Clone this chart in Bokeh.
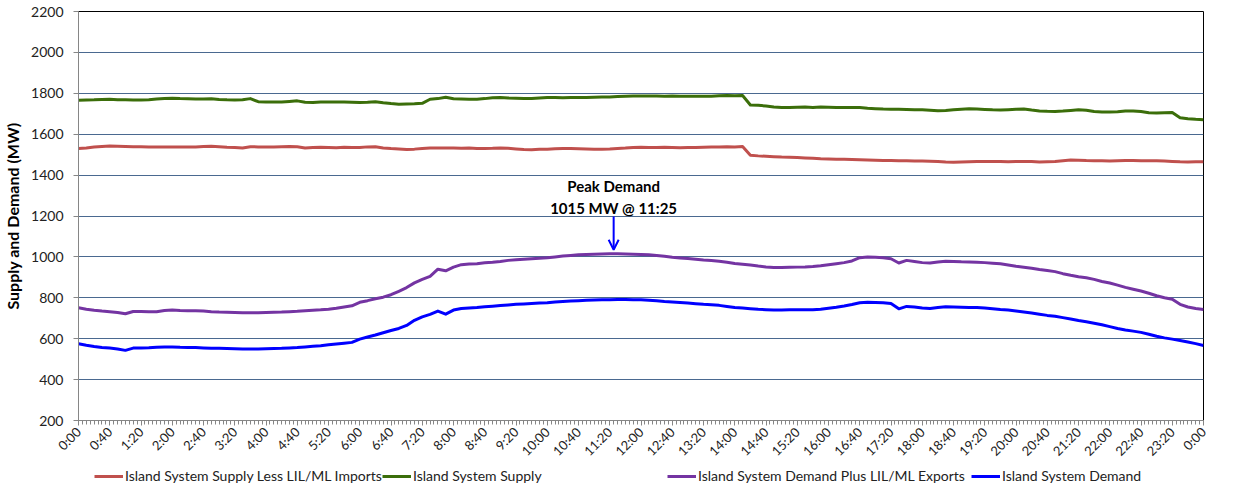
import math
from bokeh.plotting import figure
from bokeh.layouts import column
from bokeh.models import (Range1d, FixedTicker, Legend, LegendItem, Arrow,
                          OpenHead, Label, ColumnDataSource)
from bokeh.embed import file_html
from bokeh.resources import INLINE

# ---------------- data (10-minute readings, 0:00 .. 24:00) ----------------
minutes = list(range(0, 1441, 10))

supply = [
    1766, 1767, 1768, 1770, 1771, 1769,
    1768, 1767, 1767, 1769, 1772, 1774,
    1776, 1774, 1773, 1772, 1772, 1773,
    1770, 1768, 1767, 1768, 1774, 1759,
    1758, 1758, 1757, 1760, 1763, 1756,
    1755, 1757, 1758, 1757, 1757, 1756,
    1755, 1756, 1759, 1754, 1750, 1747,
    1748, 1749, 1751, 1771, 1774, 1781,
    1773, 1772, 1771, 1771, 1774, 1778,
    1779, 1777, 1776, 1774, 1775, 1777,
    1779, 1779, 1778, 1779, 1779, 1780,
    1781, 1782, 1782, 1784, 1786, 1787,
    1787, 1787, 1787, 1786, 1787, 1786,
    1786, 1785, 1785, 1786, 1788, 1789,
    1788, 1789, 1743, 1741, 1738, 1733,
    1731, 1731, 1732, 1733, 1731, 1733,
    1732, 1730, 1731, 1730, 1730, 1727,
    1725, 1723, 1722, 1722, 1721, 1720,
    1719, 1717, 1715, 1716, 1719, 1722,
    1724, 1723, 1721, 1719, 1718, 1720,
    1722, 1723, 1718, 1714, 1712, 1711,
    1713, 1716, 1719, 1717, 1711, 1709,
    1709, 1710, 1713, 1714, 1711, 1705,
    1704, 1705, 1706, 1680, 1676, 1673,
    1671,
]

supply_less_imports = [
    1530, 1533, 1537, 1540, 1542, 1541,
    1540, 1539, 1539, 1538, 1537, 1538,
    1538, 1538, 1537, 1538, 1540, 1541,
    1539, 1536, 1535, 1533, 1539, 1538,
    1537, 1538, 1539, 1540, 1539, 1533,
    1535, 1536, 1535, 1534, 1536, 1535,
    1535, 1538, 1539, 1533, 1530, 1528,
    1525, 1527, 1530, 1532, 1533, 1532,
    1533, 1531, 1532, 1530, 1530, 1531,
    1533, 1531, 1528, 1525, 1524, 1526,
    1527, 1529, 1530, 1530, 1529, 1528,
    1527, 1527, 1528, 1530, 1532, 1535,
    1536, 1535, 1535, 1536, 1535, 1534,
    1535, 1535, 1536, 1537, 1538, 1539,
    1538, 1540, 1497, 1494, 1492, 1490,
    1488, 1487, 1486, 1484, 1482, 1480,
    1479, 1478, 1477, 1476, 1475, 1474,
    1473, 1472, 1471, 1470, 1470, 1469,
    1469, 1468, 1466, 1464, 1463, 1464,
    1465, 1466, 1467, 1466, 1466, 1465,
    1466, 1467, 1466, 1464, 1465, 1466,
    1470, 1474, 1473, 1471, 1470, 1470,
    1469, 1470, 1471, 1471, 1470, 1470,
    1470, 1469, 1467, 1465, 1464, 1465,
    1465,
]

demand_plus_exports = [
    751, 744, 739, 735, 732, 728,
    722, 733, 733, 732, 732, 738,
    740, 738, 737, 737, 735, 732,
    730, 729, 728, 727, 727, 727,
    728, 729, 730, 732, 734, 737,
    739, 741, 744, 749, 755, 761,
    778, 786, 795, 803, 815, 832,
    850, 873, 890, 905, 940, 932,
    950, 962, 965, 967, 971, 974,
    978, 983, 986, 989, 991, 993,
    996, 1000, 1004, 1007, 1010, 1012,
    1013, 1014, 1015, 1015, 1014, 1013,
    1012, 1010, 1007, 1003, 998, 995,
    992, 989, 985, 982, 979, 974,
    968, 964, 960, 955, 951, 948,
    948, 949, 950, 951, 953, 957,
    962, 967, 972, 980, 996, 999,
    998, 996, 991, 970, 983, 978,
    972, 970, 975, 979, 978, 976,
    975, 974, 972, 969, 966, 960,
    954, 949, 944, 938, 933, 928,
    918, 910, 903, 898, 890, 880,
    872, 862, 851, 842, 833, 822,
    810, 800, 793, 768, 755, 748,
    743,
]

demand = [
    575, 568, 562, 557, 554, 550,
    543, 554, 555, 556, 558, 560,
    560, 558, 557, 557, 555, 553,
    553, 552, 551, 550, 550, 550,
    551, 552, 553, 555, 557, 560,
    563, 566, 570, 574, 578, 582,
    598, 608, 618, 629, 640, 650,
    665, 690, 707, 719, 735, 720,
    740, 748, 750, 752, 756, 759,
    762, 765, 768, 770, 772, 774,
    776, 779, 782, 784, 786, 788,
    789, 790, 791, 792, 792, 791,
    790, 788, 785, 782, 780, 777,
    774, 771, 768, 766, 763, 758,
    753, 750, 747, 744, 742, 740,
    740, 741, 741, 741, 741, 744,
    749, 754, 760, 767, 776, 778,
    777, 776, 772, 746, 758, 755,
    750, 748, 752, 756, 755, 754,
    753, 752, 750, 747, 743, 740,
    736, 731, 726, 720, 714, 710,
    703, 696, 689, 683, 676, 668,
    659, 650, 643, 637, 631, 622,
    612, 604, 598, 591, 584, 576,
    567,
]

series_names = ["Island System Supply Less LIL/ML Imports",
                "Island System Supply",
                "Island System Demand Plus LIL/ML Exports",
                "Island System Demand"]
series_colors = ["#c0504d", "#3b6e0a", "#7434a2", "#0000ff"]

tick_minutes = list(range(0, 1441, 40))
tick_labels = ["0:00", "0:40", "1:20", "2:00", "2:40", "3:20", "4:00", "4:40",
               "5:20", "6:00", "6:40", "7:20", "8:00", "8:40", "9:20", "10:00",
               "10:40", "11:20", "12:00", "12:40", "13:20", "14:00", "14:40",
               "15:20", "16:00", "16:40", "17:20", "18:00", "18:40", "19:20",
               "20:00", "20:40", "21:20", "22:00", "22:40", "23:20", "0:00"]
y_ticks = list(range(200, 2201, 200))

peak_minute = 11 * 60 + 25
peak_value = 1015
peak_text = ["Peak Demand", "1015 MW @ 11:25"]

FONT = "Lato"
W = 1222

# ---------------- main figure ----------------
p = figure(width=W, height=468, output_backend="svg", toolbar_location=None,
           x_range=Range1d(0, 1440), y_range=Range1d(200, 2200),
           min_border_left=71, min_border_right=19, min_border_top=11,
           min_border_bottom=48)
p.background_fill_color = "white"
p.border_fill_color = "white"
p.outline_line_color = "black"
p.outline_line_width = 1

src = ColumnDataSource(dict(t=minutes, s1=supply_less_imports, s2=supply,
                            s3=demand_plus_exports, s4=demand))
for key, col in zip(["s1", "s2", "s3", "s4"], series_colors):
    p.line("t", key, source=src, line_color=col, line_width=3,
           line_join="round")

p.xaxis.ticker = FixedTicker(ticks=tick_minutes,
                             minor_ticks=list(range(0, 1441, 5)))
p.xaxis.major_label_overrides = {m: l for m, l in zip(tick_minutes, tick_labels)}
p.xaxis.major_label_orientation = math.pi / 4
p.xaxis.major_label_text_font = FONT
p.xaxis.major_label_text_font_size = "13px"
p.xaxis.major_label_text_color = "#222222"
p.xaxis.axis_line_color = "#868686"
p.xaxis.major_tick_line_color = "#868686"
p.xaxis.minor_tick_line_color = "#868686"
p.xaxis.major_tick_out = 5
p.xaxis.major_tick_in = 0
p.xaxis.minor_tick_out = 4
p.xaxis.minor_tick_in = 0
p.xaxis.major_label_standoff = 4

p.yaxis.ticker = FixedTicker(ticks=y_ticks)
p.yaxis.major_label_text_font = FONT
p.yaxis.major_label_text_font_size = "14px"
p.yaxis.major_label_text_color = "#222222"
p.yaxis.axis_line_color = "#868686"
p.yaxis.major_tick_line_color = "#868686"
p.yaxis.major_tick_out = 5
p.yaxis.major_tick_in = 0
p.yaxis.minor_tick_line_color = None
p.yaxis.major_label_standoff = 10
p.yaxis.axis_label = "Supply and Demand (MW)"
p.yaxis.axis_label_text_font = FONT
p.yaxis.axis_label_text_font_style = "bold"
p.yaxis.axis_label_text_font_size = "16px"
p.yaxis.axis_label_text_color = "black"
p.yaxis.axis_label_standoff = 6

p.xgrid.visible = False
p.ygrid.ticker = FixedTicker(ticks=y_ticks)
p.ygrid.grid_line_color = "#4a6990"
p.ygrid.grid_line_width = 1

p.add_layout(Arrow(end=OpenHead(size=10, line_color="#0000ff", line_width=2),
                   x_start=peak_minute, y_start=peak_value + 182,
                   x_end=peak_minute, y_end=peak_value + 20,
                   line_color="#0000ff", line_width=2))
for i, txt in enumerate(peak_text):
    p.add_layout(Label(x=peak_minute, y=peak_value + 330 - i * 105, text=txt,
                       text_align="center", text_baseline="middle",
                       text_font=FONT, text_font_style="bold",
                       text_font_size="15px", text_color="black"))

# ---------------- legend strip (frame aligned with the main frame) ----------------
lf = figure(width=W, height=16, output_backend="svg", toolbar_location=None,
            x_range=Range1d(0, 1), y_range=Range1d(0, 1), min_border=0)
lf.axis.visible = False
lf.grid.visible = False
lf.outline_line_color = None
lf.background_fill_color = "white"
lf.border_fill_color = "white"

leg_x = [16, 304, 589, 893]
for name, col, lx in zip(series_names, series_colors, leg_x):
    r = lf.line(x=[5, 6], y=[5, 6], line_color=col, line_width=3)
    lg = Legend(items=[LegendItem(label=name, renderers=[r])],
                location=(lx, 0), orientation="horizontal",
                label_text_font=FONT, label_text_font_size="14px",
                label_text_color="#222222", label_height=16,
                glyph_width=29, glyph_height=16,
                label_standoff=2, padding=0, margin=0, border_line_color=None,
                background_fill_alpha=0)
    lf.add_layout(lg, "center")

layout = column(p, lf, spacing=0)
open("out.html", "w").write(file_html(layout, INLINE))
